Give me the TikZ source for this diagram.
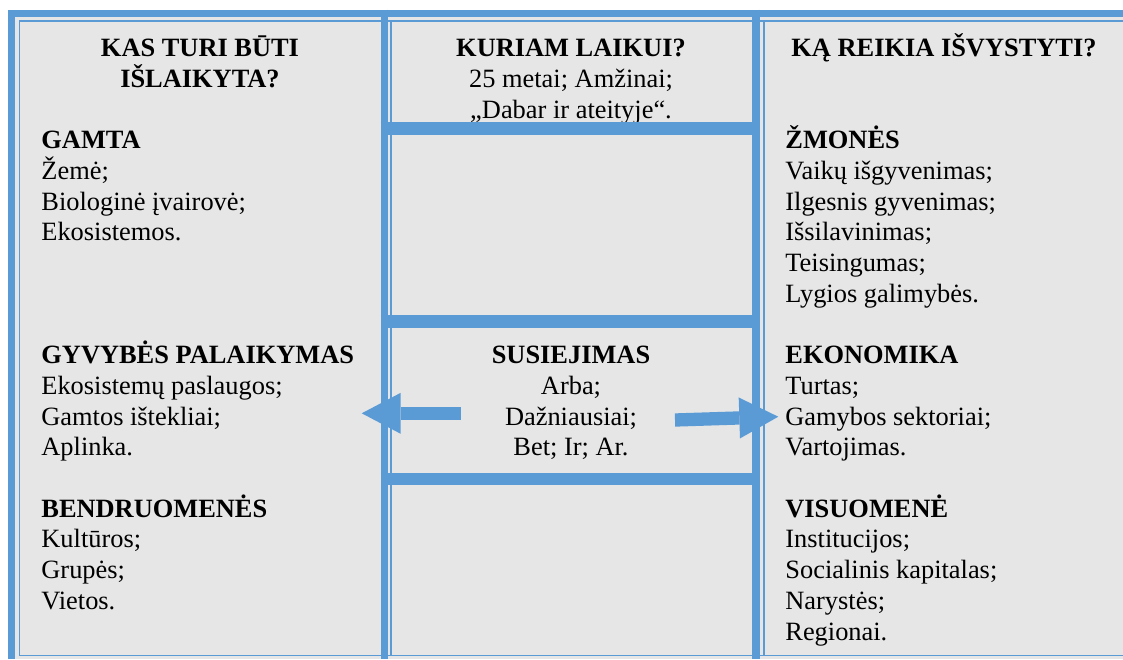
\documentclass[tikz,border=0pt]{standalone}
\usepackage{fontspec}
\setmainfont{Liberation Serif}
\usetikzlibrary{arrows.meta}
\definecolor{TB}{RGB}{91,155,213}
\definecolor{CG}{RGB}{230,230,230}

\begin{document}
\begin{tikzpicture}[
  x=0.5pt, y=-0.5pt,
  txt/.style={inner sep=0pt, font=\fontsize{13.2}{15.35}\selectfont,
              align=left, anchor=base west},
  hd/.style={txt, font=\fontsize{13.2}{15.35}\selectfont\bfseries,
             align=center, anchor=base},
  mid/.style={txt, align=center, anchor=base},
  thk/.style={draw=TB, line width=3.75pt},
  thn/.style={draw=TB, line width=0.8pt},
  bar/.style={draw=TB, line width=6.25pt},
  arr/.style={-{Triangle[length=19.5pt,width=20.5pt,line width=0pt]},
              draw=TB, line width=6.65pt}
]
\useasboundingbox (0,0) rectangle (1123,659);
\fill[white] (0,0) rectangle (1123,659);
\fill[CG] (8,9.5) rectangle (1123,659);

% headings (nodes sit on the baseline of their last line)
\node[hd] (hl) at (200,87.4) {KAS TURI BŪTI\\IŠLAIKYTA?};
\node[hd] (hr) at (944,56.7) {KĄ REIKIA IŠVYSTYTI?};

% left column
\node[txt] (gamta)  at (41,240.9) {\textbf{GAMTA}\\Žemė;\\Biologinė įvairovė;\\Ekosistemos.};
\node[txt] (gyvybe) at (41,455.8) {\textbf{GYVYBĖS PALAIKYMAS}\\Ekosistemų paslaugos;\\Gamtos ištekliai;\\Aplinka.};
\node[txt] (bendr)  at (41,609.3) {\textbf{BENDRUOMENĖS}\\Kultūros;\\Grupės;\\Vietos.};

% middle column
\node[mid] (laikas) at (571,118.1) {\textbf{KURIAM LAIKUI?}\\25 metai; Amžinai;\\„Dabar ir ateityje“.};
\node[mid] (susiej) at (571,455.8) {\textbf{SUSIEJIMAS}\\Arba;\\Dažniausiai;\\Bet; Ir; Ar.};

% right column
\node[txt] (zmones) at (785,302.3) {\textbf{ŽMONĖS}\\Vaikų išgyvenimas;\\Ilgesnis gyvenimas;\\Išsilavinimas;\\Teisingumas;\\Lygios galimybės.};
\node[txt] (ekon)   at (785,455.8) {\textbf{EKONOMIKA}\\Turtas;\\Gamybos sektoriai;\\Vartojimas.};
\node[txt] (visuom) at (785,640.0) {\textbf{VISUOMENĖ}\\Institucijos;\\Socialinis kapitalas;\\Narystės;\\Regionai.};

% table borders
\draw[thn] (1123,21) -- (19.5,21) -- (19.5,655.5) -- (1123,655.5);
\draw[thn] (391,21) -- (391,655.5);
\draw[thn] (763.8,21) -- (763.8,655.5);
\draw[thk] (11.5,659) -- (11.5,13.3) -- (1123,13.3);
\draw[thk] (384.5,9.5) -- (384.5,659);
\draw[thk] (756,9.5) -- (756,659);
\draw[bar] (380.5,128.5) -- (760,128.5);
\draw[bar] (380.5,321.5) -- (760,321.5);
\draw[bar] (380.5,479) -- (760,479);

% arrows out of the link cell
\coordinate (la) at (460.7,413.3);
\coordinate (lb) at (361.7,413.3);
\coordinate (ra) at (675,420);
\coordinate (rb) at (778.3,416.7);
\draw[arr] (la) -- (lb);
\draw[arr] (ra) -- (rb);
\end{tikzpicture}
\end{document}
